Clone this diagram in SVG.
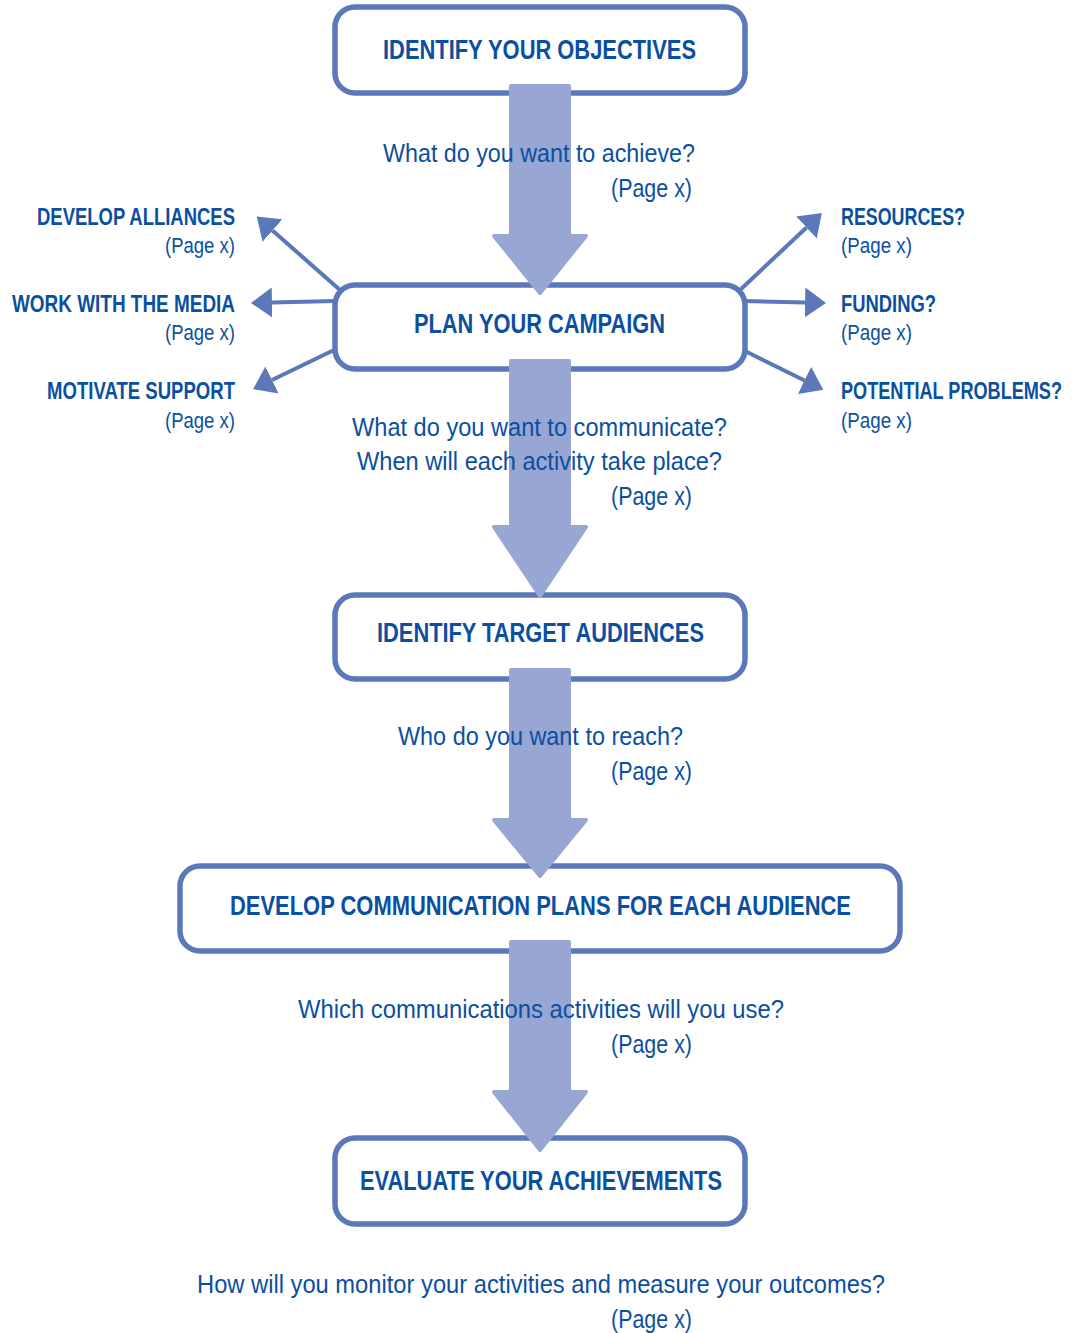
<svg xmlns="http://www.w3.org/2000/svg" width="1076" height="1333" viewBox="0 0 1076 1333">
<style>
.box{fill:#ffffff;stroke:#5A78BA;stroke-width:5.5}
.t{font-family:"Liberation Sans Narrow","Liberation Sans",Arial,sans-serif;fill:#0B4FA1}
.title{font-size:27.5px;font-weight:bold}
.q{font-size:26px}
.side{font-size:24px;font-weight:bold}
.pg{font-size:22px}
.big{fill:#97A6D3;stroke:#97A6D3;stroke-width:4;stroke-linejoin:round}
.sl{stroke:#5A78BA;stroke-width:4;fill:none;marker-end:url(#ah)}
</style>
<defs>
<marker id="ah" markerUnits="userSpaceOnUse" markerWidth="21" markerHeight="30" refX="0" refY="15" orient="auto" viewBox="0 0 21 30">
<path d="M0,0 L21,15 L0,30 Z" fill="#5A78BA"/>
</marker>
</defs>
<rect width="1076" height="1333" fill="#ffffff"/>

<g id="node-objectives">
<rect class="box" x="335" y="7" width="410" height="86" rx="20"/>
<text class="t title" x="383" y="59" textLength="313" lengthAdjust="spacingAndGlyphs">IDENTIFY YOUR OBJECTIVES</text>
</g>
<g id="node-plan">
<rect class="box" x="335" y="285" width="410" height="84" rx="20"/>
<text class="t title" x="414" y="333" textLength="251" lengthAdjust="spacingAndGlyphs">PLAN YOUR CAMPAIGN</text>
</g>
<g id="node-target">
<rect class="box" x="335" y="595" width="410" height="84" rx="20"/>
<text class="t title" x="377" y="642" textLength="327" lengthAdjust="spacingAndGlyphs">IDENTIFY TARGET AUDIENCES</text>
</g>
<g id="node-develop">
<rect class="box" x="180" y="866" width="720" height="85" rx="20"/>
<text class="t title" x="230" y="915" textLength="621" lengthAdjust="spacingAndGlyphs">DEVELOP COMMUNICATION PLANS FOR EACH AUDIENCE</text>
</g>
<g id="node-evaluate">
<rect class="box" x="335" y="1138" width="410" height="86" rx="20"/>
<text class="t title" x="360" y="1190" textLength="362" lengthAdjust="spacingAndGlyphs">EVALUATE YOUR ACHIEVEMENTS</text>
</g>

<g id="node-alliances">
<text class="t side" x="37" y="225" textLength="198" lengthAdjust="spacingAndGlyphs">DEVELOP ALLIANCES</text>
<text class="t pg" x="165" y="253" textLength="70" lengthAdjust="spacingAndGlyphs">(Page x)</text>
</g>
<g id="node-media">
<text class="t side" x="12" y="312" textLength="223" lengthAdjust="spacingAndGlyphs">WORK WITH THE MEDIA</text>
<text class="t pg" x="165" y="340" textLength="70" lengthAdjust="spacingAndGlyphs">(Page x)</text>
</g>
<g id="node-motivate">
<text class="t side" x="47" y="399" textLength="188" lengthAdjust="spacingAndGlyphs">MOTIVATE SUPPORT</text>
<text class="t pg" x="165" y="428" textLength="70" lengthAdjust="spacingAndGlyphs">(Page x)</text>
</g>
<g id="node-resources">
<text class="t side" x="841" y="225" textLength="124" lengthAdjust="spacingAndGlyphs">RESOURCES?</text>
<text class="t pg" x="841" y="253" textLength="71" lengthAdjust="spacingAndGlyphs">(Page x)</text>
</g>
<g id="node-funding">
<text class="t side" x="841" y="312" textLength="95" lengthAdjust="spacingAndGlyphs">FUNDING?</text>
<text class="t pg" x="841" y="340" textLength="71" lengthAdjust="spacingAndGlyphs">(Page x)</text>
</g>
<g id="node-problems">
<text class="t side" transform="translate(841,399) scale(0.755,1)" x="0" y="0">POTENTIAL PROBLEMS?</text>
<text class="t pg" x="841" y="428" textLength="71" lengthAdjust="spacingAndGlyphs">(Page x)</text>
</g>

<g id="connectors">
<line class="sl" x1="340" y1="290" x2="272.5" y2="230.5"/>
<line class="sl" x1="335" y1="301" x2="272" y2="302.5"/>
<line class="sl" x1="334" y1="350" x2="272" y2="380"/>
<line class="sl" x1="739" y1="291" x2="806.5" y2="227.5"/>
<line class="sl" x1="745" y1="301" x2="805" y2="302.5"/>
<line class="sl" x1="745" y1="351" x2="804.5" y2="380.5"/>
<path class="big" d="M511,86 L569,86 L569,236 L586,236 L540,293 L494,236 L511,236 Z"/>
<path class="big" d="M511,361 L569,361 L569,527 L586,527 L540,596 L494,527 L511,527 Z"/>
<path class="big" d="M511,670 L569,670 L569,820 L586,820 L540,876 L494,820 L511,820 Z"/>
<path class="big" d="M511,942 L569,942 L569,1092 L586,1092 L540,1150 L494,1092 L511,1092 Z"/>
</g>

<g id="labels">
<text class="t q" x="383" y="162" textLength="312" lengthAdjust="spacingAndGlyphs">What do you want to achieve?</text>
<text class="t q" x="611" y="197" textLength="81" lengthAdjust="spacingAndGlyphs">(Page x)</text>
<text class="t q" x="352" y="436" textLength="375" lengthAdjust="spacingAndGlyphs">What do you want to communicate?</text>
<text class="t q" x="357" y="470" textLength="365" lengthAdjust="spacingAndGlyphs">When will each activity take place?</text>
<text class="t q" x="611" y="505" textLength="81" lengthAdjust="spacingAndGlyphs">(Page x)</text>
<text class="t q" x="398" y="745" textLength="285" lengthAdjust="spacingAndGlyphs">Who do you want to reach?</text>
<text class="t q" x="611" y="780" textLength="81" lengthAdjust="spacingAndGlyphs">(Page x)</text>
<text class="t q" x="298" y="1018" textLength="486" lengthAdjust="spacingAndGlyphs">Which communications activities will you use?</text>
<text class="t q" x="611" y="1053" textLength="81" lengthAdjust="spacingAndGlyphs">(Page x)</text>
<text class="t q" x="197" y="1293" textLength="688" lengthAdjust="spacingAndGlyphs">How will you monitor your activities and measure your outcomes?</text>
<text class="t q" x="611" y="1328" textLength="81" lengthAdjust="spacingAndGlyphs">(Page x)</text>
</g>
</svg>
